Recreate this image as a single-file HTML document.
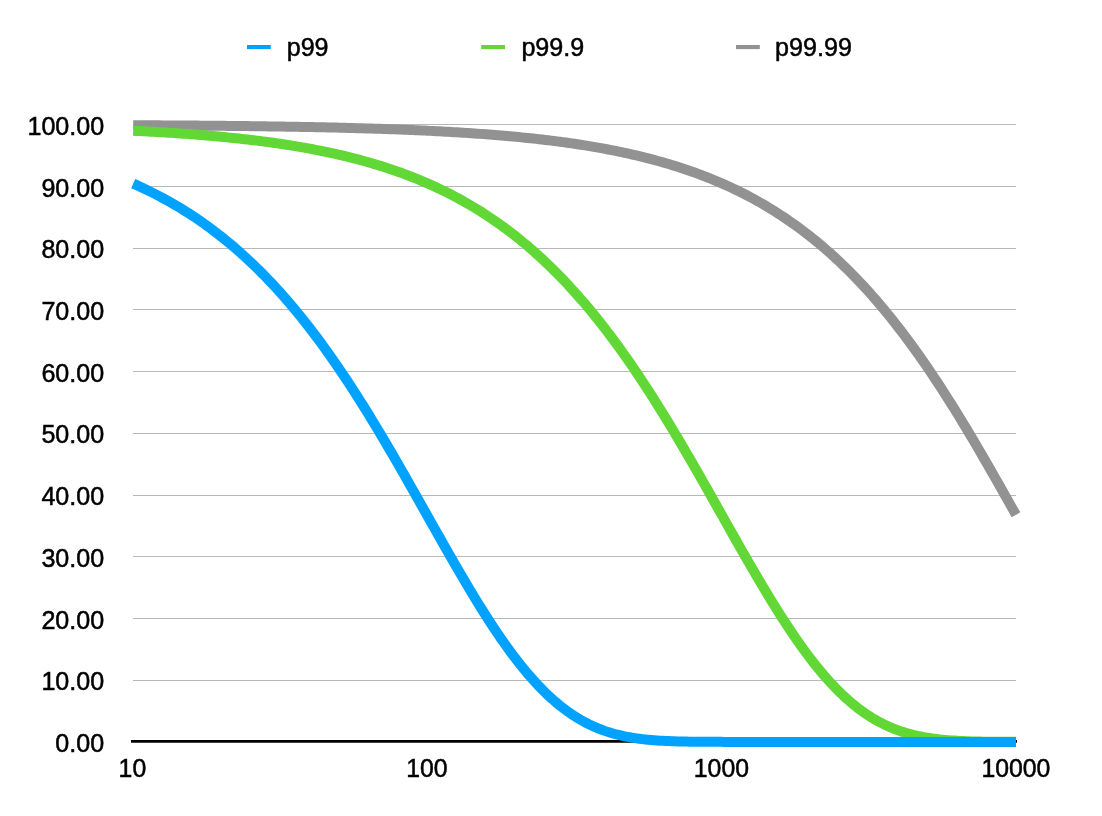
<!DOCTYPE html>
<html><head><meta charset="utf-8"><title>chart</title>
<style>
html,body{margin:0;padding:0;background:#fff;}
body{width:1102px;height:816px;overflow:hidden;}
svg{display:block;}
text{font-family:"Liberation Sans",sans-serif;font-size:25.1px;fill:#000;stroke:#000;stroke-width:0.5px;}
.x text{font-size:24.8px;}
.g line{stroke:#b8b8b8;stroke-width:1;}
.c{fill:none;stroke-width:10;stroke-linecap:butt;stroke-linejoin:round;}
</style></head><body>
<svg width="1102" height="816" viewBox="0 0 1102 816">
<rect width="1102" height="816" fill="#fff"/>
<g class="g">
<line x1="133" y1="124.5" x2="1016" y2="124.5"/>
<line x1="133" y1="186.5" x2="1016" y2="186.5"/>
<line x1="133" y1="248.5" x2="1016" y2="248.5"/>
<line x1="133" y1="309.5" x2="1016" y2="309.5"/>
<line x1="133" y1="371.5" x2="1016" y2="371.5"/>
<line x1="133" y1="433.5" x2="1016" y2="433.5"/>
<line x1="133" y1="495.5" x2="1016" y2="495.5"/>
<line x1="133" y1="556.5" x2="1016" y2="556.5"/>
<line x1="133" y1="618.5" x2="1016" y2="618.5"/>
<line x1="133" y1="680.5" x2="1016" y2="680.5"/>
</g>
<line x1="131" y1="741.45" x2="1017" y2="741.45" stroke="#000" stroke-width="2.7"/>
<polyline class="c" stroke="#929292" points="133.20,125.22 136.14,125.23 139.09,125.25 142.03,125.26 144.97,125.28 147.91,125.29 150.86,125.31 153.80,125.32 156.74,125.34 159.68,125.36 162.63,125.38 165.57,125.39 168.51,125.41 171.46,125.43 174.40,125.45 177.34,125.47 180.28,125.49 183.23,125.51 186.17,125.53 189.11,125.56 192.05,125.58 195.00,125.60 197.94,125.62 200.88,125.65 203.82,125.67 206.77,125.70 209.71,125.72 212.65,125.75 215.60,125.78 218.54,125.80 221.48,125.83 224.42,125.86 227.37,125.89 230.31,125.92 233.25,125.95 236.19,125.98 239.14,126.01 242.08,126.05 245.02,126.08 247.97,126.11 250.91,126.15 253.85,126.18 256.79,126.22 259.74,126.26 262.68,126.30 265.62,126.34 268.56,126.38 271.51,126.42 274.45,126.46 277.39,126.50 280.33,126.55 283.28,126.59 286.22,126.64 289.16,126.69 292.11,126.74 295.05,126.79 297.99,126.84 300.93,126.89 303.88,126.94 306.82,127.00 309.76,127.05 312.70,127.11 315.65,127.17 318.59,127.23 321.53,127.29 324.48,127.35 327.42,127.42 330.36,127.48 333.30,127.55 336.25,127.62 339.19,127.69 342.13,127.76 345.07,127.83 348.02,127.91 350.96,127.98 353.90,128.06 356.85,128.14 359.79,128.22 362.73,128.31 365.67,128.39 368.62,128.48 371.56,128.57 374.50,128.67 377.44,128.76 380.39,128.86 383.33,128.95 386.27,129.06 389.21,129.16 392.16,129.27 395.10,129.37 398.04,129.48 400.99,129.60 403.93,129.71 406.87,129.83 409.81,129.95 412.76,130.08 415.70,130.20 418.64,130.33 421.58,130.47 424.53,130.60 427.47,130.74 430.41,130.88 433.36,131.03 436.30,131.18 439.24,131.33 442.18,131.49 445.13,131.65 448.07,131.81 451.01,131.98 453.95,132.15 456.90,132.32 459.84,132.50 462.78,132.68 465.73,132.87 468.67,133.06 471.61,133.26 474.55,133.46 477.50,133.66 480.44,133.87 483.38,134.09 486.32,134.31 489.27,134.53 492.21,134.76 495.15,135.00 498.09,135.24 501.04,135.48 503.98,135.73 506.92,135.99 509.87,136.25 512.81,136.52 515.75,136.80 518.69,137.08 521.64,137.36 524.58,137.66 527.52,137.96 530.46,138.27 533.41,138.58 536.35,138.90 539.29,139.23 542.24,139.57 545.18,139.91 548.12,140.27 551.06,140.63 554.01,140.99 556.95,141.37 559.89,141.76 562.83,142.15 565.78,142.55 568.72,142.96 571.66,143.39 574.61,143.82 577.55,144.26 580.49,144.71 583.43,145.17 586.38,145.64 589.32,146.12 592.26,146.61 595.20,147.12 598.15,147.63 601.09,148.16 604.03,148.69 606.97,149.24 609.92,149.81 612.86,150.38 615.80,150.97 618.75,151.57 621.69,152.18 624.63,152.81 627.57,153.45 630.52,154.11 633.46,154.78 636.40,155.46 639.34,156.16 642.29,156.88 645.23,157.61 648.17,158.36 651.12,159.12 654.06,159.90 657.00,160.70 659.94,161.51 662.89,162.35 665.83,163.20 668.77,164.07 671.71,164.96 674.66,165.86 677.60,166.79 680.54,167.74 683.48,168.71 686.43,169.70 689.37,170.71 692.31,171.74 695.26,172.79 698.20,173.87 701.14,174.97 704.08,176.09 707.03,177.24 709.97,178.41 712.91,179.61 715.85,180.83 718.80,182.07 721.74,183.35 724.68,184.65 727.63,185.97 730.57,187.33 733.51,188.71 736.45,190.12 739.40,191.56 742.34,193.03 745.28,194.53 748.22,196.06 751.17,197.62 754.11,199.22 757.05,200.84 760.00,202.50 762.94,204.20 765.88,205.92 768.82,207.68 771.77,209.48 774.71,211.31 777.65,213.18 780.59,215.08 783.54,217.02 786.48,219.00 789.42,221.02 792.36,223.08 795.31,225.17 798.25,227.31 801.19,229.48 804.14,231.70 807.08,233.96 810.02,236.26 812.96,238.61 815.91,241.00 818.85,243.43 821.79,245.90 824.73,248.43 827.68,250.99 830.62,253.60 833.56,256.26 836.51,258.97 839.45,261.72 842.39,264.52 845.33,267.37 848.28,270.27 851.22,273.22 854.16,276.22 857.10,279.27 860.05,282.36 862.99,285.51 865.93,288.71 868.88,291.96 871.82,295.26 874.76,298.62 877.70,302.02 880.65,305.48 883.59,308.99 886.53,312.56 889.47,316.17 892.42,319.84 895.36,323.56 898.30,327.34 901.24,331.16 904.19,335.04 907.13,338.97 910.07,342.96 913.02,346.99 915.96,351.08 918.90,355.22 921.84,359.41 924.79,363.65 927.73,367.94 930.67,372.28 933.61,376.67 936.56,381.11 939.50,385.60 942.44,390.13 945.39,394.71 948.33,399.33 951.27,403.99 954.21,408.70 957.16,413.46 960.10,418.25 963.04,423.08 965.98,427.95 968.93,432.85 971.87,437.79 974.81,442.77 977.75,447.77 980.70,452.81 983.64,457.87 986.58,462.96 989.53,468.08 992.47,473.21 995.41,478.37 998.35,483.54 1001.30,488.73 1004.24,493.93 1007.18,499.14 1010.12,504.37 1013.07,509.59 1016.01,514.82"/>
<polyline class="c" stroke="#61d836" points="133.20,130.75 136.14,130.89 139.09,131.03 142.03,131.18 144.97,131.33 147.91,131.49 150.86,131.65 153.80,131.81 156.74,131.98 159.68,132.15 162.63,132.33 165.57,132.51 168.51,132.69 171.46,132.88 174.40,133.07 177.34,133.26 180.28,133.46 183.23,133.67 186.17,133.88 189.11,134.09 192.05,134.31 195.00,134.54 197.94,134.77 200.88,135.00 203.82,135.24 206.77,135.49 209.71,135.74 212.65,135.99 215.60,136.26 218.54,136.53 221.48,136.80 224.42,137.08 227.37,137.37 230.31,137.66 233.25,137.97 236.19,138.27 239.14,138.59 242.08,138.91 245.02,139.24 247.97,139.58 250.91,139.92 253.85,140.27 256.79,140.63 259.74,141.00 262.68,141.38 265.62,141.76 268.56,142.16 271.51,142.56 274.45,142.97 277.39,143.39 280.33,143.82 283.28,144.27 286.22,144.72 289.16,145.18 292.11,145.65 295.05,146.13 297.99,146.62 300.93,147.13 303.88,147.64 306.82,148.17 309.76,148.70 312.70,149.25 315.65,149.82 318.59,150.39 321.53,150.98 324.48,151.58 327.42,152.19 330.36,152.82 333.30,153.46 336.25,154.12 339.19,154.79 342.13,155.48 345.07,156.18 348.02,156.89 350.96,157.62 353.90,158.37 356.85,159.14 359.79,159.92 362.73,160.72 365.67,161.53 368.62,162.36 371.56,163.22 374.50,164.09 377.44,164.97 380.39,165.88 383.33,166.81 386.27,167.76 389.21,168.73 392.16,169.72 395.10,170.73 398.04,171.76 400.99,172.81 403.93,173.89 406.87,174.99 409.81,176.11 412.76,177.26 415.70,178.43 418.64,179.63 421.58,180.85 424.53,182.10 427.47,183.37 430.41,184.67 433.36,186.00 436.30,187.35 439.24,188.74 442.18,190.15 445.13,191.59 448.07,193.06 451.01,194.56 453.95,196.09 456.90,197.65 459.84,199.25 462.78,200.88 465.73,202.54 468.67,204.23 471.61,205.96 474.55,207.72 477.50,209.51 480.44,211.35 483.38,213.21 486.32,215.12 489.27,217.06 492.21,219.04 495.15,221.06 498.09,223.12 501.04,225.21 503.98,227.35 506.92,229.53 509.87,231.75 512.81,234.01 515.75,236.31 518.69,238.65 521.64,241.04 524.58,243.48 527.52,245.95 530.46,248.47 533.41,251.04 536.35,253.66 539.29,256.32 542.24,259.02 545.18,261.78 548.12,264.58 551.06,267.43 554.01,270.33 556.95,273.28 559.89,276.28 562.83,279.33 565.78,282.42 568.72,285.57 571.66,288.77 574.61,292.03 577.55,295.33 580.49,298.68 583.43,302.09 586.38,305.55 589.32,309.06 592.26,312.63 595.20,316.24 598.15,319.91 601.09,323.63 604.03,327.41 606.97,331.24 609.92,335.12 612.86,339.05 615.80,343.04 618.75,347.07 621.69,351.16 624.63,355.30 627.57,359.49 630.52,363.73 633.46,368.03 636.40,372.37 639.34,376.76 642.29,381.20 645.23,385.68 648.17,390.22 651.12,394.80 654.06,399.42 657.00,404.09 659.94,408.80 662.89,413.55 665.83,418.34 668.77,423.17 671.71,428.04 674.66,432.95 677.60,437.89 680.54,442.87 683.48,447.87 686.43,452.91 689.37,457.97 692.31,463.06 695.26,468.18 698.20,473.31 701.14,478.47 704.08,483.64 707.03,488.83 709.97,494.03 712.91,499.25 715.85,504.47 718.80,509.69 721.74,514.92 724.68,520.15 727.63,525.38 730.57,530.60 733.51,535.81 736.45,541.01 739.40,546.19 742.34,551.36 745.28,556.50 748.22,561.63 751.17,566.72 754.11,571.79 757.05,576.82 760.00,581.81 762.94,586.77 765.88,591.68 768.82,596.54 771.77,601.36 774.71,606.12 777.65,610.83 780.59,615.47 783.54,620.06 786.48,624.58 789.42,629.03 792.36,633.41 795.31,637.71 798.25,641.94 801.19,646.09 804.14,650.16 807.08,654.15 810.02,658.04 812.96,661.85 815.91,665.57 818.85,669.20 821.79,672.73 824.73,676.17 827.68,679.51 830.62,682.76 833.56,685.90 836.51,688.95 839.45,691.89 842.39,694.73 845.33,697.48 848.28,700.12 851.22,702.66 854.16,705.10 857.10,707.44 860.05,709.68 862.99,711.82 865.93,713.86 868.88,715.81 871.82,717.66 874.76,719.43 877.70,721.09 880.65,722.67 883.59,724.17 886.53,725.57 889.47,726.90 892.42,728.14 895.36,729.31 898.30,730.40 901.24,731.42 904.19,732.37 907.13,733.25 910.07,734.07 913.02,734.83 915.96,735.53 918.90,736.17 921.84,736.76 924.79,737.30 927.73,737.80 930.67,738.25 933.61,738.66 936.56,739.04 939.50,739.37 942.44,739.68 945.39,739.95 948.33,740.19 951.27,740.41 954.21,740.61 957.16,740.78 960.10,740.93 963.04,741.07 965.98,741.19 968.93,741.29 971.87,741.38 974.81,741.46 977.75,741.53 980.70,741.59 983.64,741.64 986.58,741.68 989.53,741.72 992.47,741.75 995.41,741.78 998.35,741.80 1001.30,741.82 1004.24,741.83 1007.18,741.85 1010.12,741.86 1013.07,741.86 1016.01,741.87"/>
<polyline class="c" stroke="#00a2ff" points="133.20,183.62 136.14,184.93 139.09,186.26 142.03,187.62 144.97,189.01 147.91,190.43 150.86,191.88 153.80,193.35 156.74,194.86 159.68,196.40 162.63,197.97 165.57,199.57 168.51,201.20 171.46,202.87 174.40,204.56 177.34,206.30 180.28,208.07 183.23,209.87 186.17,211.71 189.11,213.58 192.05,215.50 195.00,217.45 197.94,219.43 200.88,221.46 203.82,223.52 206.77,225.63 209.71,227.77 212.65,229.96 215.60,232.19 218.54,234.45 221.48,236.77 224.42,239.12 227.37,241.52 230.31,243.96 233.25,246.44 236.19,248.98 239.14,251.55 242.08,254.17 245.02,256.84 247.97,259.56 250.91,262.32 253.85,265.14 256.79,268.00 259.74,270.91 262.68,273.86 265.62,276.87 268.56,279.93 271.51,283.04 274.45,286.20 277.39,289.41 280.33,292.67 283.28,295.98 286.22,299.35 289.16,302.77 292.11,306.24 295.05,309.76 297.99,313.33 300.93,316.96 303.88,320.64 306.82,324.37 309.76,328.16 312.70,332.00 315.65,335.89 318.59,339.83 321.53,343.82 324.48,347.87 327.42,351.97 330.36,356.12 333.30,360.32 336.25,364.57 339.19,368.88 342.13,373.23 345.07,377.63 348.02,382.07 350.96,386.57 353.90,391.11 356.85,395.70 359.79,400.33 362.73,405.01 365.67,409.73 368.62,414.49 371.56,419.29 374.50,424.13 377.44,429.00 380.39,433.92 383.33,438.87 386.27,443.85 389.21,448.86 392.16,453.90 395.10,458.97 398.04,464.06 400.99,469.18 403.93,474.32 406.87,479.48 409.81,484.66 412.76,489.85 415.70,495.06 418.64,500.27 421.58,505.49 424.53,510.72 427.47,515.95 430.41,521.18 433.36,526.40 436.30,531.62 439.24,536.83 442.18,542.03 445.13,547.21 448.07,552.37 451.01,557.51 453.95,562.63 456.90,567.72 459.84,572.78 462.78,577.80 465.73,582.79 468.67,587.74 471.61,592.64 474.55,597.49 477.50,602.30 480.44,607.05 483.38,611.74 486.32,616.38 489.27,620.95 492.21,625.46 495.15,629.89 498.09,634.26 501.04,638.55 503.98,642.76 506.92,646.90 509.87,650.95 512.81,654.92 515.75,658.80 518.69,662.59 521.64,666.29 524.58,669.90 527.52,673.42 530.46,676.84 533.41,680.16 536.35,683.38 539.29,686.51 542.24,689.53 545.18,692.46 548.12,695.28 551.06,698.00 554.01,700.62 556.95,703.14 559.89,705.56 562.83,707.88 565.78,710.11 568.72,712.23 571.66,714.25 574.61,716.18 577.55,718.02 580.49,719.76 583.43,721.41 586.38,722.97 589.32,724.45 592.26,725.84 595.20,727.15 598.15,728.38 601.09,729.53 604.03,730.61 606.97,731.61 609.92,732.55 612.86,733.42 615.80,734.22 618.75,734.97 621.69,735.66 624.63,736.29 627.57,736.87 630.52,737.41 633.46,737.89 636.40,738.34 639.34,738.74 642.29,739.10 645.23,739.43 648.17,739.73 651.12,740.00 654.06,740.24 657.00,740.45 659.94,740.64 662.89,740.81 665.83,740.96 668.77,741.09 671.71,741.21 674.66,741.31 677.60,741.40 680.54,741.47 683.48,741.54 686.43,741.60 689.37,741.65 692.31,741.69 695.26,741.73 698.20,741.76 701.14,741.78 704.08,741.80 707.03,741.82 709.97,741.84 712.91,741.85 715.85,741.86 718.80,741.87 721.74,741.87 724.68,741.88 727.63,741.88 730.57,741.89 733.51,741.89 736.45,741.89 739.40,741.89 742.34,741.90 745.28,741.90 748.22,741.90 751.17,741.90 754.11,741.90 757.05,741.90 760.00,741.90 762.94,741.90 765.88,741.90 768.82,741.90 771.77,741.90 774.71,741.90 777.65,741.90 780.59,741.90 783.54,741.90 786.48,741.90 789.42,741.90 792.36,741.90 795.31,741.90 798.25,741.90 801.19,741.90 804.14,741.90 807.08,741.90 810.02,741.90 812.96,741.90 815.91,741.90 818.85,741.90 821.79,741.90 824.73,741.90 827.68,741.90 830.62,741.90 833.56,741.90 836.51,741.90 839.45,741.90 842.39,741.90 845.33,741.90 848.28,741.90 851.22,741.90 854.16,741.90 857.10,741.90 860.05,741.90 862.99,741.90 865.93,741.90 868.88,741.90 871.82,741.90 874.76,741.90 877.70,741.90 880.65,741.90 883.59,741.90 886.53,741.90 889.47,741.90 892.42,741.90 895.36,741.90 898.30,741.90 901.24,741.90 904.19,741.90 907.13,741.90 910.07,741.90 913.02,741.90 915.96,741.90 918.90,741.90 921.84,741.90 924.79,741.90 927.73,741.90 930.67,741.90 933.61,741.90 936.56,741.90 939.50,741.90 942.44,741.90 945.39,741.90 948.33,741.90 951.27,741.90 954.21,741.90 957.16,741.90 960.10,741.90 963.04,741.90 965.98,741.90 968.93,741.90 971.87,741.90 974.81,741.90 977.75,741.90 980.70,741.90 983.64,741.90 986.58,741.90 989.53,741.90 992.47,741.90 995.41,741.90 998.35,741.90 1001.30,741.90 1004.24,741.90 1007.18,741.90 1010.12,741.90 1013.07,741.90 1016.01,741.90"/>
<g text-anchor="end">
<text transform="translate(104.20 134.90) scale(1 1.020)">100.00</text>
<text transform="translate(104.20 196.60) scale(1 1.020)">90.00</text>
<text transform="translate(104.20 258.30) scale(1 1.020)">80.00</text>
<text transform="translate(104.20 320.00) scale(1 1.020)">70.00</text>
<text transform="translate(104.20 381.70) scale(1 1.020)">60.00</text>
<text transform="translate(104.20 443.40) scale(1 1.020)">50.00</text>
<text transform="translate(104.20 505.10) scale(1 1.020)">40.00</text>
<text transform="translate(104.20 566.80) scale(1 1.020)">30.00</text>
<text transform="translate(104.20 628.50) scale(1 1.020)">20.00</text>
<text transform="translate(104.20 690.20) scale(1 1.020)">10.00</text>
<text transform="translate(104.20 751.90) scale(1 1.020)">0.00</text>
</g>
<g class="x" text-anchor="middle">
<text transform="translate(132.40 777.00) scale(1 1.020)">10</text>
<text transform="translate(426.90 777.00) scale(1 1.020)">100</text>
<text transform="translate(721.40 777.00) scale(1 1.020)">1000</text>
<text transform="translate(1015.90 777.00) scale(1 1.020)">10000</text>
</g>
<rect x="247" y="45" width="23.8" height="4.1" fill="#00a2ff"/>
<text transform="translate(286.70 56.30) scale(1 1.000)">p99</text>
<rect x="481.2" y="45" width="23.8" height="4.1" fill="#61d836"/>
<text transform="translate(521.40 56.30) scale(1 1.000)">p99.9</text>
<rect x="736" y="45" width="23.8" height="4.1" fill="#929292"/>
<text transform="translate(775.10 56.30) scale(1 1.000)">p99.99</text>
</svg></body></html>
